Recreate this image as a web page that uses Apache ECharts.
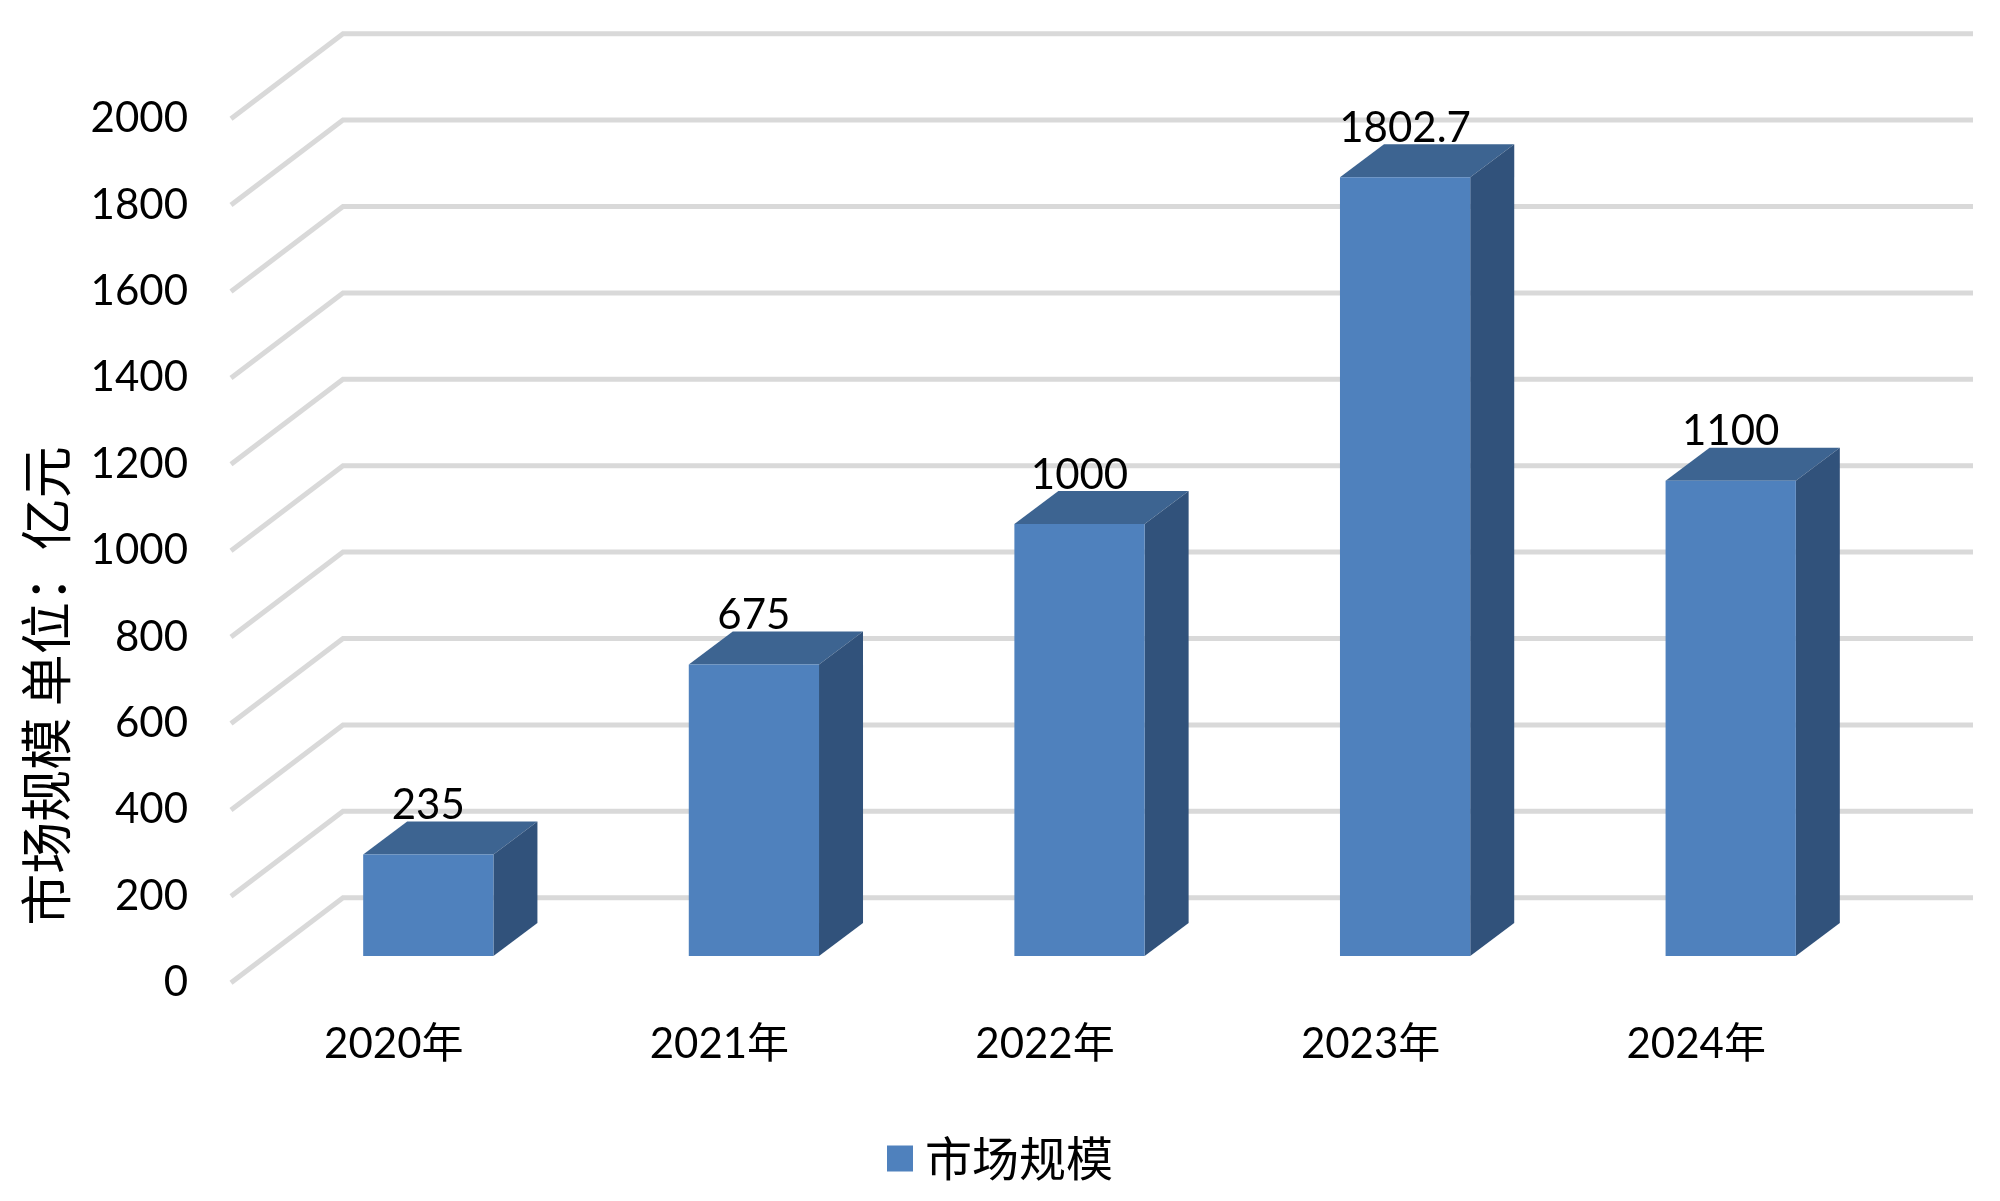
<!DOCTYPE html>
<html>
<head>
<meta charset="utf-8">
<title>市场规模</title>
<style>
  html, body { margin: 0; padding: 0; background: #fff; }
  #chart { width: 2000px; height: 1201px; }
</style>
<script src="https://cdn.jsdelivr.net/npm/echarts@6/dist/echarts.min.js"></script>
</head>
<body>
<div id="chart"></div>
<script>
const years = ['2020年', '2021年', '2022年', '2023年', '2024年']
const marketSize = [235, 675, 1000, 1802.7, 1100]
const yTicks = [0, 200, 400, 600, 800, 1000, 1200, 1400, 1600, 1800, 2000]
const seriesName = '市场规模'
const yTitle = '市场规模 单位：亿元'

const FONT = 'Lato, "Noto Sans CJK SC", sans-serif'
const CJK_FONT = '"Noto Sans CJK SC", sans-serif'
const FONT_SIZE = 42

// fake 3d: the back wall is shifted from the axis plane by this much
const WALL_DX = 112
const WALL_DY = 85
// bars stand on the floor, part of the way to the wall
const FLOOR_DX = 34.5
const FLOOR_DY = 26.7
const BAR_DX = 44
const BAR_DY = 33

const chart = echarts.init(document.getElementById('chart'))

function renderGridLine(params, api) {
  const y = api.coord([0, api.value(0)])[1]
  const left = params.coordSys.x
  return {
    type: 'polyline',
    shape: {
      points: [[left, y], [left + WALL_DX, y - WALL_DY], [1973, y - WALL_DY]]
    },
    style: { stroke: '#d9d9d9', lineWidth: 5, fill: null }
  }
}

function renderBar(params, api) {
  const i = api.value(0)
  const value = api.value(1)
  const top = api.coord([i, value])
  const base = api.coord([i, 0])
  const w = api.size([1, 0])[0] * 0.4
  const x0 = top[0] + FLOOR_DX - w / 2
  const x1 = x0 + w
  const y0 = top[1] - FLOOR_DY
  const y1 = base[1] - FLOOR_DY
  return {
    type: 'group',
    children: [
      {
        type: 'polygon',
        shape: { points: [[x0, y0], [x0 + BAR_DX, y0 - BAR_DY], [x1 + BAR_DX, y0 - BAR_DY], [x1, y0]] },
        style: { fill: '#3d6491' }
      },
      {
        type: 'polygon',
        shape: { points: [[x1, y0], [x1 + BAR_DX, y0 - BAR_DY], [x1 + BAR_DX, y1 - BAR_DY], [x1, y1]] },
        style: { fill: '#31527b' }
      },
      {
        type: 'rect',
        shape: { x: x0, y: y0, width: w, height: y1 - y0 },
        style: { fill: '#4f81bd' }
      },
      {
        type: 'text',
        style: {
          text: String(value),
          x: (x0 + x1) / 2,
          y: y0 - 49,
          align: 'center',
          verticalAlign: 'middle',
          fill: '#000',
          font: FONT_SIZE + 'px ' + FONT
        }
      }
    ]
  }
}

chart.setOption({
  animation: false,
  backgroundColor: '#fff',
  grid: { left: 231, top: 118.7, width: 1628, height: 864 },
  legend: {
    data: [seriesName],
    left: 882,
    top: 1130,
    icon: 'rect',
    itemWidth: 26,
    itemHeight: 26,
    itemGap: 0,
    textStyle: { fontFamily: CJK_FONT, fontSize: 47, color: '#000', padding: [0, 0, 0, 7] }
  },
  graphic: [{
    type: 'text',
    x: 46,
    y: 686,
    rotation: Math.PI / 2,
    style: {
      text: yTitle,
      align: 'center',
      verticalAlign: 'middle',
      fill: '#000',
      font: '52px ' + CJK_FONT
    }
  }],
  xAxis: {
    type: 'category',
    data: years,
    axisLine: { show: false },
    axisTick: { show: false },
    axisLabel: { margin: 41, color: '#000', fontFamily: FONT, fontSize: FONT_SIZE }
  },
  yAxis: {
    type: 'value',
    min: 0,
    max: 2000,
    interval: 200,
    axisLine: { show: false },
    axisTick: { show: false },
    splitLine: { show: false },
    axisLabel: {
      margin: 43,
      padding: [3, 0, 0, 0],
      color: '#000',
      fontFamily: FONT,
      fontSize: FONT_SIZE,
      formatter: value => String(value)
    }
  },
  series: [
    {
      type: 'custom',
      name: 'grid',
      renderItem: renderGridLine,
      encode: { y: 0 },
      data: yTicks,
      silent: true,
      z: 1
    },
    {
      type: 'custom',
      name: seriesName,
      renderItem: renderBar,
      encode: { x: 0, y: 1 },
      itemStyle: { color: '#4f81bd' },
      data: marketSize.map((v, i) => [i, v]),
      z: 2
    }
  ]
})
</script>
</body>
</html>
